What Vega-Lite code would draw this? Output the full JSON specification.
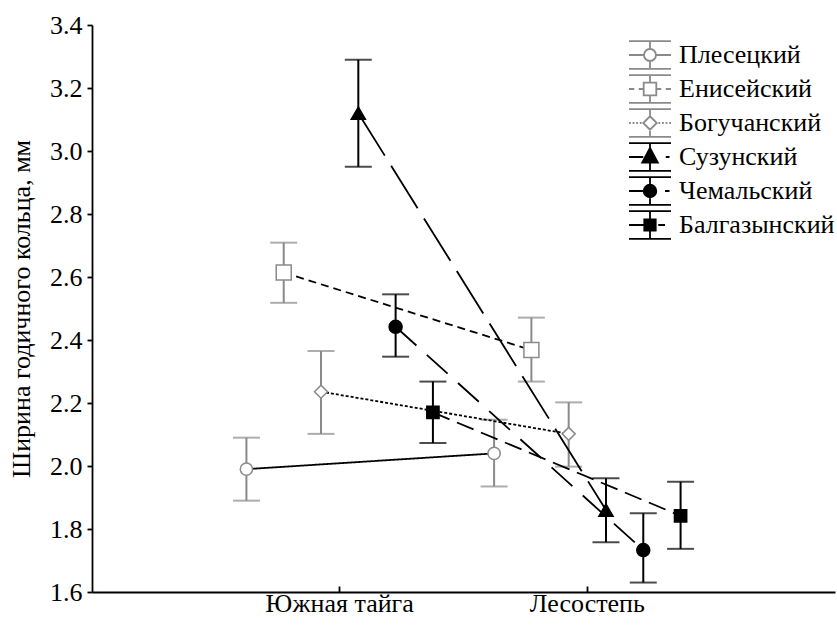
{
  "$schema": "https://vega.github.io/schema/vega-lite/v6.json",
  "width": 743,
  "height": 567,
  "autosize": {"type": "none"},
  "padding": {"left": 92, "top": 25, "right": 2, "bottom": 33},
  "background": "white",
  "config": {
    "view": {"stroke": null},
    "font": "Liberation Serif",
    "axis": {"labelFont": "Liberation Serif", "titleFont": "Liberation Serif", "labelFontSize": 26, "titleFontSize": 26, "titleFontWeight": "normal", "labelColor": "black", "titleColor": "black", "domainColor": "black", "tickColor": "black", "domainWidth": 1.8, "tickWidth": 1.8, "grid": false},
    "legend": {"labelFont": "Liberation Serif", "labelFontSize": 26, "labelColor": "black"}
  },
  "data": {"values": [
    {"series": "Плесецкий", "zone": "Южная тайга", "mean": 1.99, "lo": 1.89, "hi": 2.09},
    {"series": "Плесецкий", "zone": "Лесостепь", "mean": 2.04, "lo": 1.935, "hi": 2.147},
    {"series": "Енисейский", "zone": "Южная тайга", "mean": 2.614, "lo": 2.518, "hi": 2.709},
    {"series": "Енисейский", "zone": "Лесостепь", "mean": 2.368, "lo": 2.268, "hi": 2.471},
    {"series": "Богучанский", "zone": "Южная тайга", "mean": 2.236, "lo": 2.102, "hi": 2.365},
    {"series": "Богучанский", "zone": "Лесостепь", "mean": 2.102, "lo": 1.998, "hi": 2.202},
    {"series": "Сузунский", "zone": "Южная тайга", "mean": 3.12, "lo": 2.95, "hi": 3.29},
    {"series": "Сузунский", "zone": "Лесостепь", "mean": 1.86, "lo": 1.758, "hi": 1.961},
    {"series": "Чемальский", "zone": "Южная тайга", "mean": 2.442, "lo": 2.347, "hi": 2.545},
    {"series": "Чемальский", "zone": "Лесостепь", "mean": 1.733, "lo": 1.63, "hi": 1.85},
    {"series": "Балгазынский", "zone": "Южная тайга", "mean": 2.17, "lo": 2.073, "hi": 2.268},
    {"series": "Балгазынский", "zone": "Лесостепь", "mean": 1.842, "lo": 1.737, "hi": 1.95}
  ]},
  "encoding": {
    "x": {"field": "zone", "type": "nominal", "sort": ["Южная тайга", "Лесостепь"],
          "scale": {"type": "band", "paddingInner": 0, "paddingOuter": 0.5},
          "axis": {"title": null, "labelAngle": 0, "tickSize": -6, "labelPadding": 4}},
    "xOffset": {"field": "series", "type": "nominal",
                "sort": ["Плесецкий", "Енисейский", "Богучанский", "Сузунский", "Чемальский", "Балгазынский"],
                "scale": {"paddingInner": 0, "paddingOuter": 0.32}}
  },
  "layer": [
    {
      "mark": {"type": "rule", "strokeWidth": 2},
      "encoding": {
        "y": {"field": "lo", "type": "quantitative"},
        "y2": {"field": "hi"},
        "color": {"condition": {"test": "indexof(['Плесецкий','Енисейский','Богучанский'], datum.series) >= 0", "value": "#8a8a8a"}, "value": "black"}
      }
    },
    {
      "mark": {"type": "tick", "thickness": 2, "size": 27},
      "encoding": {
        "y": {"field": "lo", "type": "quantitative"},
        "color": {"condition": {"test": "indexof(['Плесецкий','Енисейский','Богучанский'], datum.series) >= 0", "value": "#8a8a8a"}, "value": "black"}
      }
    },
    {
      "mark": {"type": "tick", "thickness": 2, "size": 27},
      "encoding": {
        "y": {"field": "hi", "type": "quantitative"},
        "color": {"condition": {"test": "indexof(['Плесецкий','Енисейский','Богучанский'], datum.series) >= 0", "value": "#8a8a8a"}, "value": "black"}
      }
    },
    {
      "mark": {"type": "line", "color": "black", "strokeWidth": 1.8},
      "encoding": {
        "y": {"field": "mean", "type": "quantitative"},
        "detail": {"field": "series"},
        "strokeDash": {"condition": [
          {"test": "datum.series === 'Енисейский'", "value": [8, 5]},
          {"test": "datum.series === 'Богучанский'", "value": [3, 2]},
          {"test": "datum.series === 'Сузунский'", "value": [50, 12]},
          {"test": "datum.series === 'Чемальский'", "value": [28, 14]},
          {"test": "datum.series === 'Балгазынский'", "value": [18, 8]}
        ], "value": [1, 0]}
      }
    },
    {
      "mark": {"type": "point", "strokeWidth": 1.5, "opacity": 1},
      "encoding": {
        "y": {"field": "mean", "type": "quantitative",
              "scale": {"domain": [1.6, 3.4], "nice": false, "zero": false},
              "axis": {"title": "Ширина годичного кольца, мм", "values": [1.6, 1.8, 2.0, 2.2, 2.4, 2.6, 2.8, 3.0, 3.2, 3.4], "format": ".1f", "tickSize": 5, "labelPadding": 5, "titlePadding": 15}},
        "fill": {"condition": {"test": "indexof(['Плесецкий','Енисейский','Богучанский'], datum.series) >= 0", "value": "white"}, "value": "black"},
        "stroke": {"condition": {"test": "indexof(['Плесецкий','Енисейский','Богучанский'], datum.series) >= 0", "value": "#8a8a8a"}, "value": "black"},
        "shape": {"condition": [
          {"test": "datum.series === 'Енисейский' || datum.series === 'Балгазынский'", "value": "square"},
          {"test": "datum.series === 'Богучанский'", "value": "diamond"},
          {"test": "datum.series === 'Сузунский'", "value": "triangle-up"}
        ], "value": "circle"},
        "size": {"condition": [
          {"test": "datum.series === 'Енисейский'", "value": 225},
          {"test": "datum.series === 'Балгазынский'", "value": 150},
          {"test": "datum.series === 'Сузунский'", "value": 200},
          {"test": "datum.series === 'Плесецкий'", "value": 150}
        ], "value": 170}
      }
    },
    {
      "transform": [{"filter": "false"}],
      "mark": {"type": "point", "size": 900, "strokeWidth": 1.8, "opacity": 1, "filled": true},
      "encoding": {
        "shape": {"field": "series", "type": "nominal",
                  "scale": {"domain": ["Плесецкий", "Енисейский", "Богучанский", "Сузунский", "Чемальский", "Балгазынский"],
                            "range": [
                              "M-1.4,-0.93H1.4M-1.4,0.93H1.4M0,-0.93V-0.4M0,0.4V0.93M-1.4,0H-0.4M0.4,0H1.4M0.4,0A0.4,0.4 0 1,1 -0.4,0A0.4,0.4 0 1,1 0.4,0Z",
                              "M-1.4,-0.93H1.4M-1.4,0.93H1.4M0,-0.93V-0.42M0,0.42V0.93M-1.4,0H-1.05M-0.75,0H-0.42M0.42,0H0.75M1.05,0H1.4M-0.42,-0.42H0.42V0.42H-0.42Z",
                              "M-1.4,-0.93H1.4M-1.4,0.93H1.4M0,-0.93V-0.45M0,0.45V0.93M-1.4,0H-1.28M-1.16,0H-1.04M-0.92,0H-0.8M-0.68,0H-0.56M0.56,0H0.68M0.8,0H0.92M1.04,0H1.16M1.28,0H1.4M0,-0.45L0.45,0L0,0.45L-0.45,0Z",
                              "M-1.4,-0.93H1.4M-1.4,0.93H1.4M0,-0.93V-0.6M0,0.38V0.93M-1.4,0H-0.45M1.05,0H1.3M0,-0.6L0.52,0.38H-0.52Z",
                              "M-1.4,-0.93H1.4M-1.4,0.93H1.4M0,-0.93V-0.42M0,0.42V0.93M-1.4,0H-0.42M1.0,0H1.3M0.42,0A0.42,0.42 0 1,1 -0.42,0A0.42,0.42 0 1,1 0.42,0Z",
                              "M-1.4,-0.93H1.4M-1.4,0.93H1.4M0,-0.93V-0.38M0,0.38V0.93M-1.4,0H-0.38M0.55,0H1.0M-0.38,-0.38H0.38V0.38H-0.38Z"
                            ]},
                  "legend": {"title": null, "orient": "none", "legendX": 542, "legendY": 14, "padding": 0, "rowPadding": -14, "symbolSize": 900, "labelOffset": 13, "symbolStrokeWidth": 1.8, "symbolOpacity": 1}},
        "fill": {"field": "series", "type": "nominal", "legend": {"title": null},
                 "scale": {"domain": ["Плесецкий", "Енисейский", "Богучанский", "Сузунский", "Чемальский", "Балгазынский"], "range": ["white", "white", "white", "black", "black", "black"]}},
        "stroke": {"field": "series", "type": "nominal", "legend": {"title": null},
                   "scale": {"domain": ["Плесецкий", "Енисейский", "Богучанский", "Сузунский", "Чемальский", "Балгазынский"], "range": ["#8a8a8a", "#8a8a8a", "#8a8a8a", "black", "black", "black"]}}
      }
    }
  ]
}
